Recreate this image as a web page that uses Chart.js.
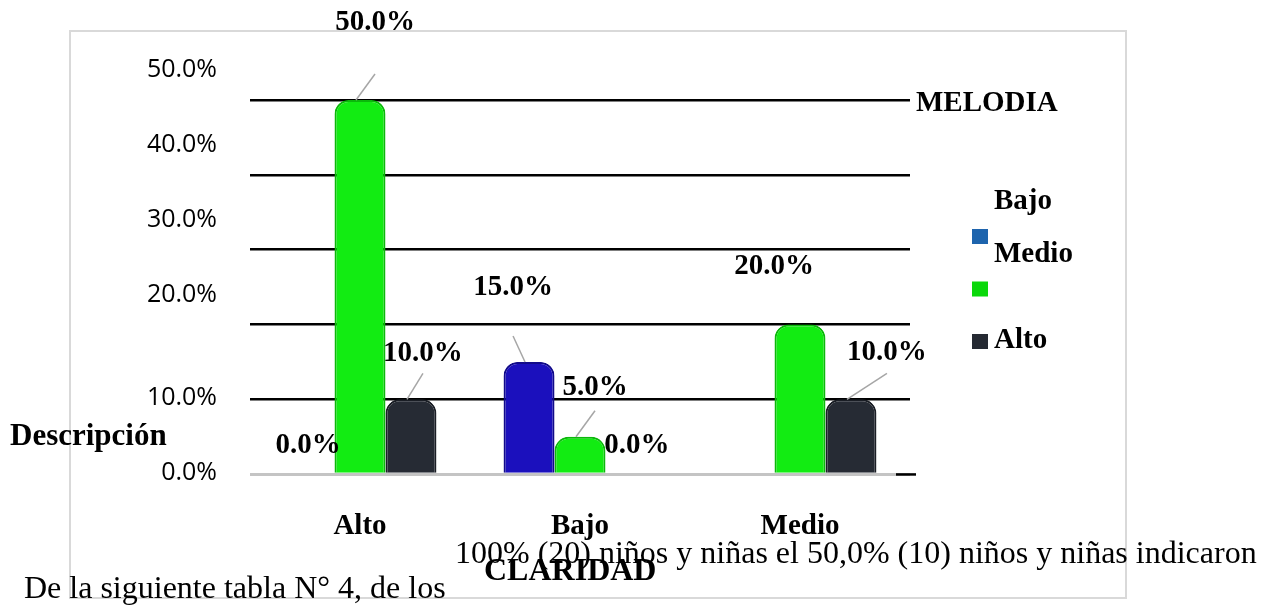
<!DOCTYPE html>
<html lang="es">
<head>
<meta charset="utf-8">
<title>MELODIA - CLARIDAD</title>
<script src="https://cdn.jsdelivr.net/npm/chart.js@4.4.1/dist/chart.umd.min.js"></script>
<style>
    html, body { margin: 0; padding: 0; background: #ffffff; }
    #wrap { position: relative; width: 1273px; height: 607px; }
</style>
</head>
<body>
<div id="wrap"><canvas id="claridadChart" width="1273" height="607"></canvas></div>
<script>
// Categories on the x axis
const categories = ['Alto', 'Bajo', 'Medio'];

// Series values (percent), one array per series
const bajoValues = [0, 15, null];
const medioValues = [50, 5, 20];
const altoValues = [10, 0, 10];

// Series names, in legend order
const seriesNames = ['Bajo', 'Medio', 'Alto'];

// Y axis tick values
const yTickValues = [0, 10, 20, 30, 40, 50];

// ── styling ──
const SERIF = '"Liberation Serif", "Times New Roman", serif';
const barColors = ['#1b10bd', '#12ec12', '#262b34'];
const barEdges = ['#120b8a', '#0bb80b', '#1a1e25'];
const legendColors = ['#1e64ad', '#0ad80a', '#252a33'];

// value label nudge per series / category: [dx, dy, leader line]
const labelNudges = [
    [[-1, -29, false], [-16, -74, true], null],
    [[15, -77, true], [15, -49, true], [-26, -58, false]],
    [[12, -46, true], [6, -29, false], [36, -47, true]]
];

function pct(v) {
    return v.toFixed(1) + '%';
}

// Everything that Excel put around the plot
const extrasPlugin = {
    id: 'extras',
    beforeDraw(chart) {
        const ctx = chart.ctx;
        ctx.save();
        ctx.strokeStyle = '#d9d9d9';
        ctx.lineWidth = 2;
        ctx.strokeRect(70, 31, 1056, 567);
        ctx.restore();
    },
    afterDatasetsDraw(chart) {
        const ctx = chart.ctx;
        ctx.save();
        ctx.font = 'bold 29px ' + SERIF;
        ctx.textAlign = 'center';
        ctx.textBaseline = 'middle';
        chart.data.datasets.forEach((ds, i) => {
            chart.getDatasetMeta(i).data.forEach((bar, j) => {
                const v = ds.data[j];
                const nudge = labelNudges[i][j];
                if (v === null || !nudge) return;
                const lx = bar.x + nudge[0];
                const ly = bar.y + nudge[1];
                if (nudge[2]) {
                    ctx.strokeStyle = '#a6a6a6';
                    ctx.lineWidth = 1.5;
                    ctx.beginPath();
                    ctx.moveTo(bar.x - 4, bar.y);
                    ctx.lineTo(lx, bar.y - 26);
                    ctx.stroke();
                }
                ctx.fillStyle = '#000000';
                ctx.fillText(pct(v), lx, ly);
            });
        });
        ctx.restore();
    },
    afterDraw(chart) {
        const ctx = chart.ctx;
        const yScale = chart.scales.y;
        const area = chart.chartArea;
        ctx.save();

        // y tick labels (the upper ones sit between gridlines, as in the original)
        ctx.font = '25px "Open Sans", sans-serif';
        ctx.fillStyle = '#000000';
        ctx.textAlign = 'right';
        ctx.textBaseline = 'middle';
        yScale.ticks.forEach(t => {
            const lift = t.value >= 20 ? 30 : 1;
            ctx.fillText(pct(t.value), area.left - 33, yScale.getPixelForValue(t.value) - lift);
        });

        // short dark stub at the end of the baseline
        ctx.fillStyle = '#000000';
        ctx.fillRect(area.right - 14, area.bottom - 1, 20, 2.5);

        // titles
        ctx.textAlign = 'left';
        ctx.font = 'bold 29px ' + SERIF;
        ctx.fillText('MELODIA', 916, 104);
        ctx.font = 'bold 31px ' + SERIF;
        ctx.fillText('Descripción', 10, 437);
        ctx.font = 'bold 32px ' + SERIF;
        ctx.fillText('CLARIDAD', 484, 572);

        // legend
        const textDy = [-34, -34, 0];
        ctx.font = 'bold 29px ' + SERIF;
        seriesNames.forEach((name, i) => {
            const top = 229 + i * 52.5;
            ctx.fillStyle = legendColors[i];
            ctx.fillRect(972, top, 16, 15);
            ctx.fillStyle = '#000000';
            ctx.fillText(name, 994, top + 7 + textDy[i]);
        });

        // body text of the document overlapping the chart
        ctx.font = '32px ' + SERIF;
        ctx.fillText('100% (20) niños y niñas el 50,0% (10) niños y niñas indicaron', 455, 555);
        ctx.fillText('De la siguiente tabla N° 4, de los', 24, 590);
        ctx.restore();
    }
};

let claridadChart = null;

function initChart() {
    const canvas = document.getElementById('claridadChart');
    if (!canvas) return;

    const seriesValues = [bajoValues, medioValues, altoValues];

    claridadChart = new Chart(canvas.getContext('2d'), {
        type: 'bar',
        data: {
            labels: categories,
            datasets: seriesNames.map((name, i) => ({
                label: name,
                data: seriesValues[i],
                backgroundColor: barColors[i],
                borderColor: barEdges[i],
                borderWidth: c => (c.raw ? 2 : 0),
                borderSkipped: 'bottom',
                borderRadius: { topLeft: 14, topRight: 14, bottomLeft: 0, bottomRight: 0 },
                categoryPercentage: 0.695,
                barPercentage: 1
            }))
        },
        options: {
            responsive: false,
            animation: false,
            devicePixelRatio: 1,
            layout: { padding: { left: 250, right: 363, top: 100, bottom: 28 } },
            plugins: {
                legend: { display: false },
                tooltip: { enabled: false }
            },
            scales: {
                x: {
                    grid: { display: false, drawTicks: false },
                    border: { display: false },
                    ticks: {
                        color: '#000000',
                        font: { family: SERIF, size: 29, weight: 'bold' },
                        padding: 35
                    }
                },
                y: {
                    min: 0,
                    max: 50,
                    afterBuildTicks: axis => {
                        axis.ticks = yTickValues.map(v => ({ value: v }));
                    },
                    ticks: { display: false },
                    grid: {
                        color: c => (c.tick && c.tick.value === 0 ? '#c4c4c4' : '#000000'),
                        lineWidth: c => (c.tick && c.tick.value === 0 ? 3 : 2.5),
                        drawTicks: false
                    },
                    border: { display: false }
                }
            }
        },
        plugins: [extrasPlugin]
    });
}

// Page load
document.addEventListener('DOMContentLoaded', function() {
    initChart();
});
</script>
</body>
</html>
